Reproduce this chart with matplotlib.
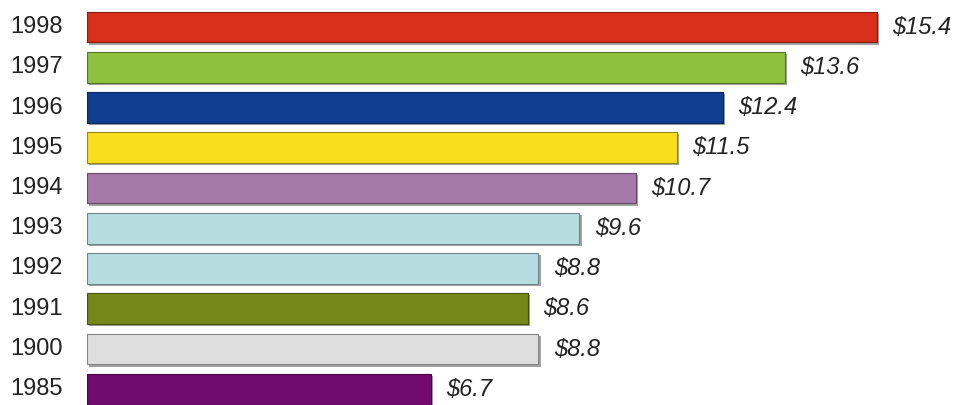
import matplotlib
matplotlib.use('Agg')
import matplotlib.pyplot as plt
import matplotlib.patheffects as pe
import matplotlib.colors as mcolors
import numpy as np

years = ['1998', '1997', '1996', '1995', '1994', '1993', '1992', '1991', '1900', '1985']
values = [15.4, 13.6, 12.4, 11.5, 10.7, 9.6, 8.8, 8.6, 8.8, 6.7]
colors = ['#d8301a', '#8fc13f', '#0f3f8e', '#f8de1c', '#a67aa8',
          '#b5dde0', '#b5dde0', '#76881a', '#dedede', '#720b6f']

plt.rcParams['font.family'] = ['Liberation Sans', 'DejaVu Sans']

fig = plt.figure(figsize=(9.54, 4.05), dpi=100)
ax = fig.add_axes([87 / 954, 0, 1 - 87 / 954, 1])

y = np.arange(len(years))

def darker(c, f=0.6):
    r, g, b = mcolors.to_rgb(c)
    return (r * f, g * f, b * f)

bars = ax.barh(y, values, height=0.77, color=colors,
               edgecolor=[darker(c) for c in colors], linewidth=0.8)
for b in bars:
    b.set_path_effects([pe.SimplePatchShadow(offset=(1.5, -1.5), shadow_rgbFace='#555555', alpha=0.55),
                        pe.Normal()])

for yi, v in zip(y, values):
    ax.annotate(f'${v}', xy=(v, yi), xytext=(11, 0), textcoords='offset points',
                va='center', ha='left', fontsize=17, style='italic', color='#222222')

# year labels sit to the left of the bars
for yi, yr in zip(y, years):
    ax.annotate(yr, xy=(0, yi), xytext=(-77 * 0.72, 0), textcoords='offset points',
                va='center', ha='left', fontsize=17, color='#222222', annotation_clip=False)

ax.set_xlim(0, 867 / 51.3)
ax.set_ylim((405 - 27) / 40.25, -27 / 40.25)
ax.axis('off')

fig.savefig('out.png', dpi=100)
